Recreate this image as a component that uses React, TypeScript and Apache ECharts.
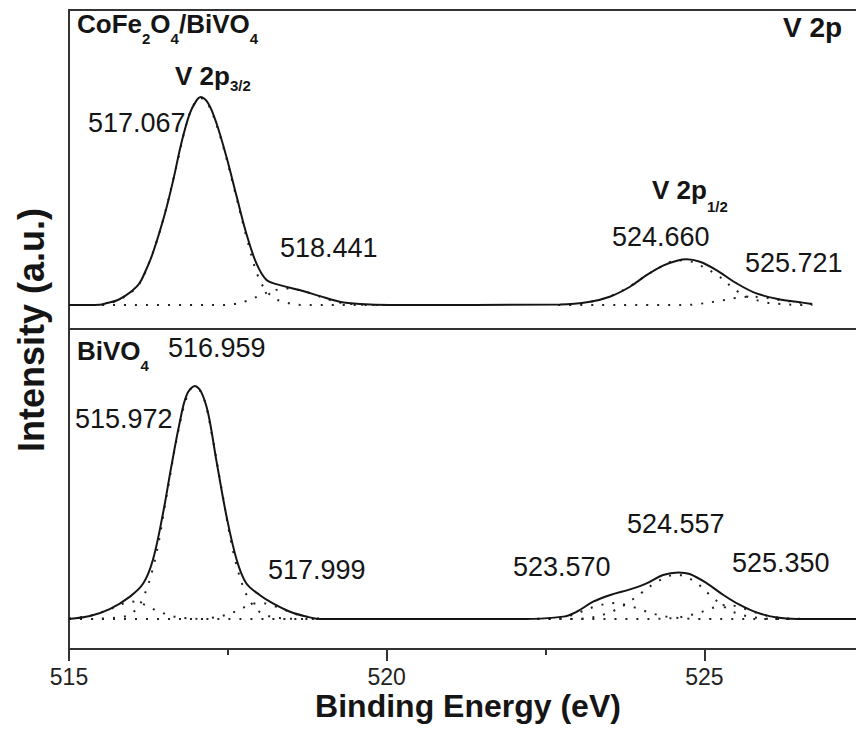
import React, { useEffect, useRef } from "react";
import * as echarts from "echarts";

// ---------- data (binding energy in eV, intensity in a.u.) ----------
const xTickValues = [515, 520, 525];

// CoFe2O4/BiVO4 envelope
const topEnvE = [515.0, 515.3, 515.48, 515.6, 515.75, 515.9, 516.0, 516.11, 516.2, 516.32, 516.51, 516.64, 516.77, 516.9, 517.01, 517.07, 517.19, 517.32, 517.48, 517.64, 517.79, 517.95, 518.11, 518.32, 518.63, 518.95, 519.26, 519.58, 520.05, 522.73, 523.2, 523.51, 523.83, 524.09, 524.35, 524.57, 524.72, 524.93, 525.19, 525.51, 525.82, 526.19, 526.45, 526.69];
const topEnvV = [0, 0, 0.001, 0.01, 0.022, 0.048, 0.07, 0.105, 0.16, 0.25, 0.44, 0.6, 0.78, 0.92, 0.985, 1.0, 0.97, 0.875, 0.71, 0.52, 0.345, 0.2, 0.12, 0.096, 0.072, 0.043, 0.016, 0.005, 0, 0.003, 0.016, 0.04, 0.088, 0.144, 0.19, 0.213, 0.22, 0.208, 0.168, 0.104, 0.056, 0.027, 0.016, 0.005];

// CoFe2O4/BiVO4 fitted components
const topLeftE = [515.0, 515.5, 515.7, 515.9, 516.1, 516.3, 516.5, 516.7, 516.9, 517.07, 517.2, 517.4, 517.6, 517.8, 518.0, 518.2, 518.44, 518.7, 518.9, 519.1, 519.3, 519.6, 520.0];
const topComp517 = [0, 0, 0.015, 0.045, 0.1, 0.235, 0.43, 0.68, 0.92, 0.995, 0.96, 0.79, 0.56, 0.32, 0.12, 0.04, 0.01, 0, 0, 0, 0, 0, 0];
const topComp518 = [0, 0, 0, 0, 0, 0, 0, 0, 0, 0, 0, 0, 0.005, 0.02, 0.045, 0.068, 0.08, 0.066, 0.046, 0.025, 0.01, 0.002, 0];
const topRightE = [522.7, 523.0, 523.2, 523.5, 523.8, 524.1, 524.35, 524.5, 524.7, 524.9, 525.2, 525.5, 525.72, 525.95, 526.2, 526.45, 526.7];
const topComp524 = [0, 0.005, 0.015, 0.04, 0.085, 0.145, 0.19, 0.21, 0.215, 0.195, 0.145, 0.07, 0.035, 0.014, 0.005, 0.001, 0];
const topComp525 = [0, 0, 0, 0, 0, 0, 0, 0, 0, 0.005, 0.018, 0.034, 0.04, 0.036, 0.024, 0.014, 0.005];

// BiVO4 envelope
const botEnvE = [515.0, 515.33, 515.64, 515.96, 516.17, 516.32, 516.48, 516.61, 516.74, 516.85, 516.98, 517.08, 517.19, 517.32, 517.48, 517.64, 517.79, 518.0, 518.21, 518.48, 518.74, 518.95, 522.15, 522.78, 522.99, 523.25, 523.52, 523.83, 524.09, 524.35, 524.59, 524.77, 525.04, 525.3, 525.56, 525.83, 526.14, 526.46, 528.0];
const botEnvV = [0, 0.013, 0.042, 0.096, 0.153, 0.253, 0.454, 0.654, 0.84, 0.96, 1.0, 0.975, 0.883, 0.68, 0.44, 0.253, 0.153, 0.103, 0.067, 0.031, 0.01, 0, 0, 0.01, 0.031, 0.074, 0.103, 0.127, 0.153, 0.189, 0.2, 0.193, 0.153, 0.103, 0.06, 0.027, 0.006, 0, 0];

// BiVO4 fitted components
const botLeftE = [515.0, 515.3, 515.6, 515.8, 515.97, 516.15, 516.35, 516.55, 516.7, 516.85, 516.96, 517.1, 517.25, 517.4, 517.6, 517.8, 518.0, 518.2, 518.4, 518.6, 518.8, 519.0];
const botComp515 = [0.003, 0.012, 0.037, 0.06, 0.075, 0.065, 0.04, 0.018, 0.008, 0.003, 0.001, 0, 0, 0, 0, 0, 0, 0, 0, 0, 0, 0];
const botComp516 = [0, 0, 0.003, 0.008, 0.02, 0.08, 0.25, 0.55, 0.78, 0.95, 0.995, 0.965, 0.79, 0.56, 0.27, 0.1, 0.03, 0.008, 0.002, 0, 0, 0];
const botComp517 = [0, 0, 0, 0, 0, 0, 0, 0, 0, 0, 0, 0, 0.005, 0.012, 0.03, 0.055, 0.07, 0.058, 0.038, 0.018, 0.007, 0];
const botRightE = [522.2, 522.6, 522.9, 523.1, 523.3, 523.57, 523.8, 524.0, 524.2, 524.4, 524.557, 524.7, 524.9, 525.1, 525.35, 525.5, 525.7, 525.9, 526.1, 526.4, 526.7];
const botComp523 = [0, 0.003, 0.015, 0.035, 0.055, 0.068, 0.058, 0.04, 0.022, 0.01, 0.005, 0.002, 0, 0, 0, 0, 0, 0, 0, 0, 0];
const botComp524 = [0, 0, 0, 0.002, 0.01, 0.035, 0.07, 0.11, 0.15, 0.18, 0.19, 0.182, 0.15, 0.1, 0.045, 0.025, 0.01, 0.003, 0, 0, 0];
const botComp525 = [0, 0, 0, 0, 0, 0, 0, 0, 0, 0.002, 0.005, 0.012, 0.025, 0.045, 0.06, 0.055, 0.038, 0.02, 0.008, 0.001, 0];

// ---------- helpers ----------
const FONT = '"Liberation Sans", Arial, Helvetica, sans-serif';
const INK = "#151515";
const FRAME = "#333333";

const zip = (xs: number[], ys: number[]) => xs.map((x, i) => [x, ys[i]]);

function envelope(xs: number[], ys: number[], idx: number) {
  return {
    type: "line",
    xAxisIndex: idx,
    yAxisIndex: idx,
    data: zip(xs, ys),
    showSymbol: false,
    smooth: 0.35,
    lineStyle: { color: INK, width: 2 },
    z: 3,
  };
}

function component(xs: number[], ys: number[], idx: number) {
  return {
    type: "line",
    xAxisIndex: idx,
    yAxisIndex: idx,
    data: zip(xs, ys),
    showSymbol: false,
    smooth: 0.35,
    lineStyle: { color: "#222", width: 2, type: [2, 9] },
    z: 2,
  };
}

function plain(text: string, x: number, y: number, size = 27, bold = false) {
  return {
    type: "text",
    x,
    y,
    silent: true,
    style: {
      text,
      fontSize: size,
      fontWeight: bold ? "bold" : "normal",
      fontFamily: FONT,
      fill: INK,
      align: "left",
      verticalAlign: "middle",
    },
  };
}

function rich(parts: [string, boolean][], x: number, y: number, size: number, subSize: number, subLH: number) {
  const text = parts.map(([t, sub]) => `{${sub ? "s" : "b"}|${t}}`).join("");
  return {
    type: "text",
    x,
    y,
    silent: true,
    style: {
      text,
      align: "left",
      verticalAlign: "middle",
      rich: {
        b: { fontSize: size, fontWeight: "bold", fontFamily: FONT, fill: INK, lineHeight: size + 4, verticalAlign: "middle" },
        s: { fontSize: subSize, fontWeight: "bold", fontFamily: FONT, fill: INK, lineHeight: subLH, verticalAlign: "bottom" },
      },
    },
  };
}

export default function App() {
  const ref = useRef<HTMLDivElement>(null);

  useEffect(() => {
    if (!ref.current) return;
    const chart = echarts.init(ref.current, undefined, { renderer: "svg" });

    // plot frame runs past the right edge of the picture (cropped like the original)
    const gridCommon = {
      left: 69,
      width: 953,
      show: true,
      borderColor: FRAME,
      borderWidth: 2,
      backgroundColor: "transparent",
      containLabel: false,
      outerBoundsMode: "none",
    };

    const option: any = {
      animation: false,
      backgroundColor: "#ffffff",
      grid: [
        { ...gridCommon, top: 10, height: 319 },
        { ...gridCommon, top: 329, height: 320 },
      ],
      xAxis: [
        { type: "value", gridIndex: 0, min: 515, max: 530, interval: 5, show: false },
        {
          type: "value",
          gridIndex: 1,
          min: 515,
          max: 530,
          interval: 5,
          axisLine: { show: true, onZero: false, lineStyle: { color: FRAME, width: 2 } },
          axisTick: { show: true, inside: false, length: 12, lineStyle: { color: FRAME, width: 2 } },
          minorTick: { show: true, splitNumber: 2, length: 6, lineStyle: { color: FRAME, width: 2 } },
          axisLabel: {
            show: true,
            fontSize: 23,
            fontFamily: FONT,
            color: "#222",
            margin: 16,
            formatter: (v: number) => (xTickValues.includes(v) ? String(v) : ""),
          },
          splitLine: { show: false },
          minorSplitLine: { show: false },
        },
      ],
      yAxis: [
        { type: "value", gridIndex: 0, min: -0.115, max: 1.418, show: false, splitLine: { show: false } },
        { type: "value", gridIndex: 1, min: -0.129, max: 1.245, show: false, splitLine: { show: false } },
      ],
      series: [
        component(topLeftE, topComp517, 0),
        component(topLeftE, topComp518, 0),
        component(topRightE, topComp524, 0),
        component(topRightE, topComp525, 0),
        envelope(topEnvE, topEnvV, 0),
        component(botLeftE, botComp515, 1),
        component(botLeftE, botComp516, 1),
        component(botLeftE, botComp517, 1),
        component(botRightE, botComp523, 1),
        component(botRightE, botComp524, 1),
        component(botRightE, botComp525, 1),
        envelope(botEnvE, botEnvV, 1),
      ],
      graphic: [
        rich([["CoFe", false], ["2", true], ["O", false], ["4", true], ["/BiVO", false], ["4", true]], 77, 24, 26, 15, 44),
        plain("V 2p", 783, 27.5, 28, true),
        rich([["V 2p", false], ["3/2", true]], 175, 75.5, 26, 15, 35),
        rich([["V 2p", false], ["1/2", true]], 652, 190, 26, 15, 48),
        plain("517.067", 88, 122.5),
        plain("518.441", 280, 247.5),
        plain("524.660", 612, 236.5),
        plain("525.721", 745, 263),
        rich([["BiVO", false], ["4", true]], 77, 351, 26, 15, 44),
        plain("516.959", 168, 347.5),
        plain("515.972", 75, 419),
        plain("517.999", 268, 570),
        plain("523.570", 513, 567),
        plain("524.557", 627, 524),
        plain("525.350", 732, 562.5),
        {
          type: "text",
          x: 468,
          y: 705.5,
          silent: true,
          style: { text: "Binding Energy (eV)", fontSize: 32, fontWeight: "bold", fontFamily: FONT, fill: INK, align: "center", verticalAlign: "middle" },
        },
        {
          type: "text",
          x: 31,
          y: 330,
          rotation: Math.PI / 2,
          silent: true,
          style: { text: "Intensity (a.u.)", fontSize: 36, fontWeight: "bold", fontFamily: FONT, fill: INK, align: "center", verticalAlign: "middle" },
        },
      ],
    };

    chart.setOption(option);
    return () => chart.dispose();
  }, []);

  return <div ref={ref} style={{ position: "absolute", left: 0, top: 0, width: 856, height: 731, background: "#fff" }} />;
}
